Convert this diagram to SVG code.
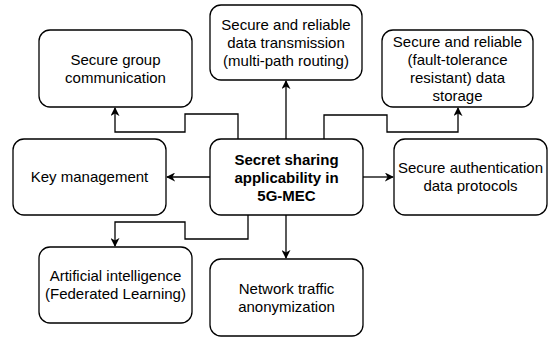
<svg xmlns="http://www.w3.org/2000/svg" width="551" height="341" viewBox="0 0 551 341">
<defs>
<marker id="arr" viewBox="0 0 10 10" refX="9" refY="5" markerWidth="9" markerHeight="9" markerUnits="userSpaceOnUse" orient="auto">
<path d="M0,0 L10,5 L0,10 L3,5 Z" fill="#000"/>
</marker>
</defs>
<style>
.box{fill:#fff;stroke:#000;stroke-width:1.3}
.t{font-family:"Liberation Sans",Arial,sans-serif;font-size:15px;text-anchor:middle;fill:#000}
.b{font-weight:bold}
.c{fill:none;stroke:#000;stroke-width:1.3;marker-end:url(#arr)}
</style>
<rect width="551" height="341" fill="#fff"/>
<g id="connectors">
<path class="c" d="M238,139 V114 H185 V132 H115 V108"/>
<path class="c" d="M286,139 V81"/>
<path class="c" d="M324,139 V115 H387 V132 H458 V108"/>
<path class="c" d="M210,177 H167"/>
<path class="c" d="M363,177 H393"/>
<path class="c" d="M248,215 V239 H185 V222 H115 V246"/>
<path class="c" d="M286,215 V258"/>
</g>
<g id="group-comm">
<rect class="box" x="39" y="30" width="153" height="77" rx="11"/>
<text class="t" x="115.5" y="64.5">Secure group</text>
<text class="t" x="115.5" y="82.5">communication</text>
</g>
<g id="transmission">
<rect class="box" x="210" y="5" width="152" height="75" rx="11"/>
<text class="t" x="286" y="29.5">Secure and reliable</text>
<text class="t" x="286" y="47.5">data transmission</text>
<text class="t" x="286" y="65.5">(multi-path routing)</text>
</g>
<g id="storage">
<rect class="box" x="382" y="30" width="151" height="77" rx="11"/>
<text class="t" x="457.5" y="46.5">Secure and reliable</text>
<text class="t" x="457.5" y="64.5">(fault-tolerance</text>
<text class="t" x="457.5" y="82.5">resistant) data</text>
<text class="t" x="457.5" y="100.5">storage</text>
</g>
<g id="key-management">
<rect class="box" x="13" y="139" width="153" height="76" rx="11"/>
<text class="t" x="89.5" y="182">Key management</text>
</g>
<g id="center">
<rect class="box" x="210" y="139" width="153" height="76" rx="11"/>
<text class="t b" x="286.5" y="165">Secret sharing</text>
<text class="t b" x="286.5" y="183">applicability in</text>
<text class="t b" x="286.5" y="201">5G-MEC</text>
</g>
<g id="authentication">
<rect class="box" x="394" y="139" width="153" height="76" rx="11"/>
<text class="t" x="470.5" y="173">Secure authentication</text>
<text class="t" x="470.5" y="191">data protocols</text>
</g>
<g id="ai">
<rect class="box" x="39" y="247" width="153" height="76" rx="11"/>
<text class="t" x="115.5" y="281">Artificial intelligence</text>
<text class="t" x="115.5" y="299">(Federated Learning)</text>
</g>
<g id="network">
<rect class="box" x="210" y="259" width="153" height="77" rx="11"/>
<text class="t" x="286.5" y="293.5">Network traffic</text>
<text class="t" x="286.5" y="311.5">anonymization</text>
</g>
</svg>
